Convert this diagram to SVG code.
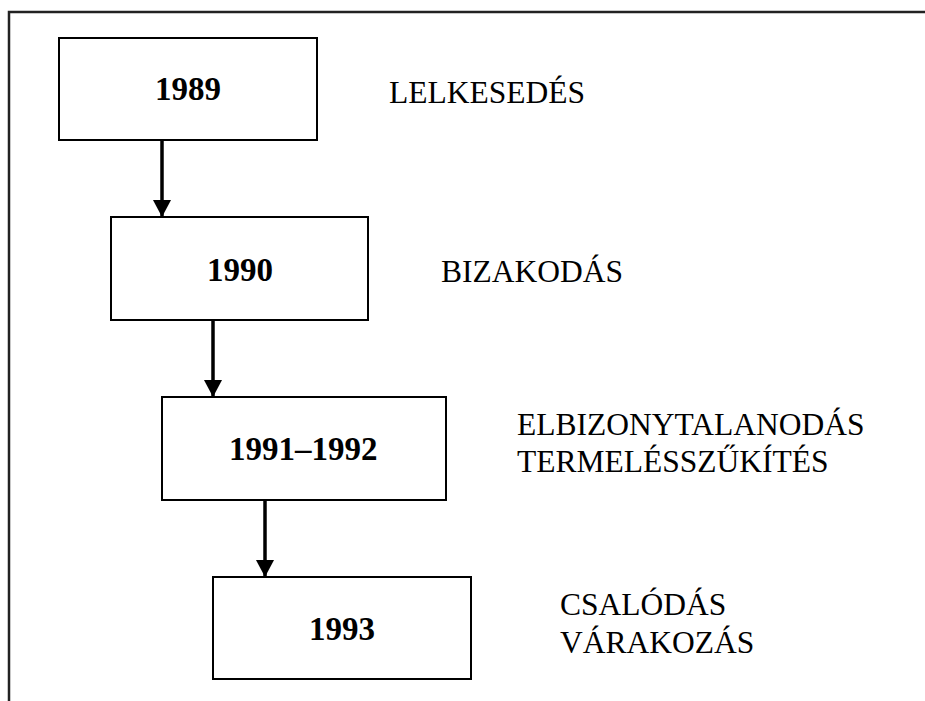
<svg xmlns="http://www.w3.org/2000/svg" width="925" height="701" viewBox="0 0 925 701">
<style>
.box{fill:#fff;stroke:#000;stroke-width:2}
.yr{font-family:"Liberation Serif","Times New Roman",serif;font-weight:bold;font-size:33px;fill:#000}
.lbl{font-family:"Liberation Serif","Times New Roman",serif;font-size:31.5px;fill:#000}
.conn{stroke:#000;stroke-width:3.5;fill:none}
.frame{stroke:#222;stroke-width:2.5;fill:none}
</style>
<defs>
<marker id="ah" markerUnits="userSpaceOnUse" markerWidth="20" markerHeight="18" refX="17" refY="9" orient="auto">
<polygon points="0,0 17,9 0,18" fill="#000"/>
</marker>
</defs>
<rect width="925" height="701" fill="#fff"/>
<path class="frame" d="M9,701 V12 H925"/>
<g id="connectors">
<line class="conn" x1="162" y1="140" x2="162" y2="217" marker-end="url(#ah)"/>
<line class="conn" x1="213" y1="320" x2="213" y2="397" marker-end="url(#ah)"/>
<line class="conn" x1="265" y1="500" x2="265" y2="577" marker-end="url(#ah)"/>
</g>
<g id="n1989">
<rect class="box" x="59" y="38" width="258" height="102"/>
<text class="yr" x="155" y="100">1989</text>
</g>
<g id="n1990">
<rect class="box" x="111" y="217" width="257" height="103"/>
<text class="yr" x="207" y="281">1990</text>
</g>
<g id="n1991">
<rect class="box" x="162" y="397" width="284" height="103"/>
<text class="yr" x="229" y="460">1991–1992</text>
</g>
<g id="n1993">
<rect class="box" x="213" y="577" width="258" height="102"/>
<text class="yr" x="309" y="640">1993</text>
</g>
<g id="labels">
<text class="lbl" x="389" y="103">LELKESEDÉS</text>
<text class="lbl" x="441" y="282">BIZAKODÁS</text>
<text class="lbl" x="517" y="435">ELBIZONYTALANODÁS</text>
<text class="lbl" x="517" y="472">TERMELÉSSZŰKÍTÉS</text>
<text class="lbl" x="560" y="615">CSALÓDÁS</text>
<text class="lbl" x="560" y="653">VÁRAKOZÁS</text>
</g>
</svg>
